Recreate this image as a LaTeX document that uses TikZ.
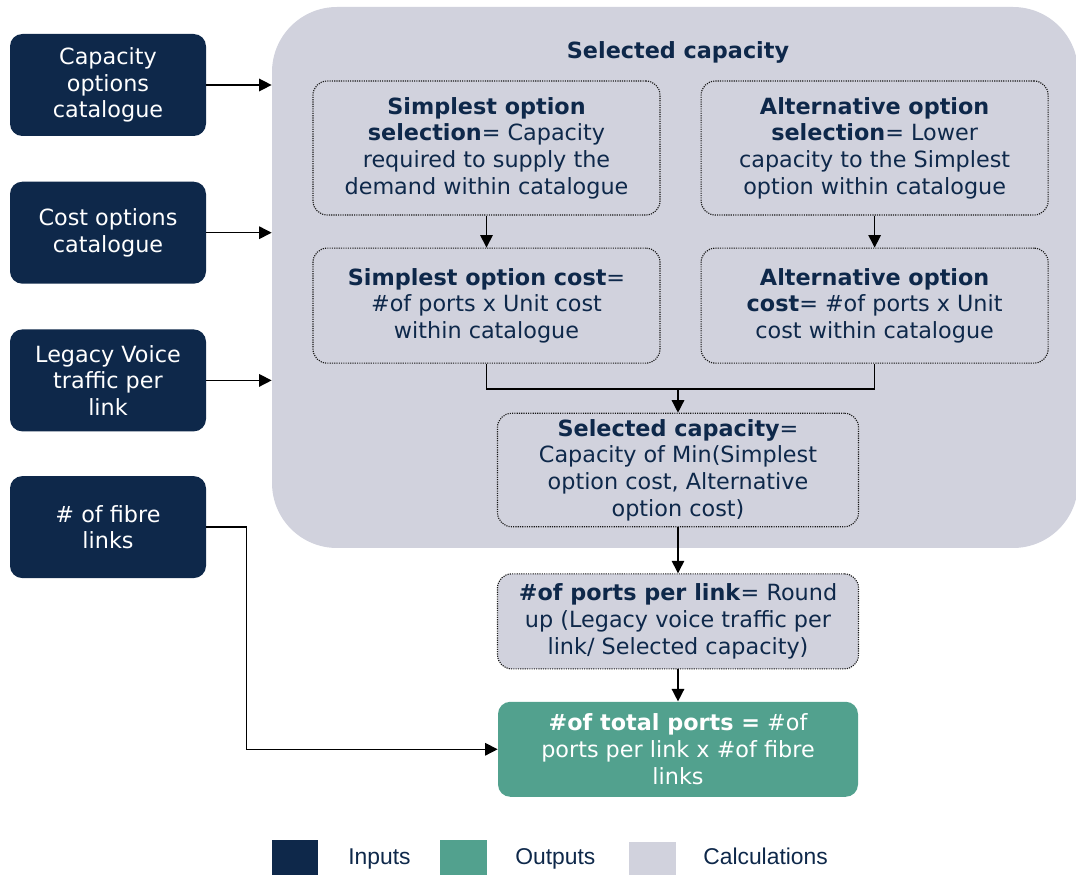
\documentclass[tikz,border=0pt]{standalone}
\usepackage{fontspec}
\setmainfont{DejaVu Sans}
\newfontfamily\legendfont{Liberation Sans}
\usepackage{tikz}
\usetikzlibrary{arrows.meta,positioning,calc}
\definecolor{cnavy}{RGB}{14,40,74}
\definecolor{cteal}{RGB}{82,161,142}
\definecolor{cgray}{RGB}{209,210,221}
\tikzset{
  inputbox/.style={rectangle, rounded corners=7pt, fill=cnavy, text=white, align=center, minimum width=3.92cm, minimum height=2.04cm, font=\fontsize{12.7}{15.2}\selectfont},
  calcbox/.style={rectangle, rounded corners=8pt, draw=black!90, dash pattern=on 0.65pt off 0.65pt, line width=0.65pt, fill=cgray, text=cnavy, align=center, minimum width=6.94cm, font=\fontsize{12.7}{15.2}\selectfont},
  midbox/.style={calcbox, minimum width=7.22cm},
  outbox/.style={rectangle, rounded corners=7pt, fill=cteal, text=white, align=center, minimum width=7.2cm, minimum height=1.9cm, font=\fontsize{12.7}{15.2}\selectfont},
  region/.style={rectangle, rounded corners=1.3cm, fill=cgray, minimum width=16.12cm, minimum height=10.82cm},
  arrow/.style={-{Triangle[length=2.5mm,width=2.5mm]}, line width=0.8pt, draw=black},
  line/.style={line width=0.8pt, draw=black},
  legsquare/.style={rectangle, inner sep=0pt, minimum width=0.93cm, minimum height=0.7cm},
  legtext/.style={inner sep=0pt, anchor=base west, text=cnavy, font=\legendfont\fontsize{13}{15}\selectfont}
}
\begin{document}
\begin{tikzpicture}[node distance=0.9cm]
\useasboundingbox (0,0) rectangle (21.52,-17.5);
% inputs
\node[inputbox] (capacity) at (2.16,-1.70) {Capacity\\options\\catalogue};
\node[inputbox, below=of capacity] (cost) {Cost options\\catalogue};
\node[inputbox, below=of cost] (legacy) {Legacy Voice\\traffic per\\link};
\node[inputbox, below=0.88cm of legacy] (fibre) {\# of fibre\\links};
% calculation area
\node[region] (calcarea) at (13.50,-5.55) {};
\node[font=\fontsize{12.7}{15.2}\selectfont\bfseries, text=cnavy] (areatitle) at (13.56,-1.04) {Selected capacity};
\node[calcbox, minimum height=2.68cm] (simsel) at (9.73,-2.96) {\textbf{Simplest option}\\\textbf{selection}= Capacity\\required to supply the\\demand within catalogue};
\node[calcbox, minimum height=2.68cm, right=0.8cm of simsel] (altsel) {\textbf{Alternative option}\\\textbf{selection}= Lower\\capacity to the Simplest\\option within catalogue};
\node[calcbox, minimum height=2.3cm, below=0.64cm of simsel] (simcost) {\textbf{Simplest option cost}=\\\#of ports x Unit cost\\within catalogue};
\node[calcbox, minimum height=2.3cm, below=0.64cm of altsel] (altcost) {\textbf{Alternative option}\\\textbf{cost}= \#of ports x Unit\\cost within catalogue};
\node[midbox, minimum height=2.2cm] (selcap) at (13.56,-9.40) {\textbf{Selected capacity}=\\Capacity of Min(Simplest\\option cost, Alternative\\option cost)};
\node[midbox, minimum height=1.9cm, below=0.92cm of selcap] (ports) {\textbf{\#of ports per link}= Round\\up (Legacy voice traffic per\\link/ Selected capacity)};
\node[outbox, below=0.64cm of ports] (total) {\textbf{\#of total ports =} \#of\\ports per link x \#of fibre\\links};
% connectors
\draw[arrow] (capacity) -- (capacity -| calcarea.west);
\draw[arrow] (cost) -- (cost -| calcarea.west);
\draw[arrow] (legacy) -- (legacy -| calcarea.west);
\draw[arrow] (simsel) -- (simcost);
\draw[arrow] (altsel) -- (altcost);
\coordinate (merge) at (selcap.north |- 0,-7.78);
\draw[line] (simcost.south) |- (altcost.south |- merge) -- (altcost.south);
\draw[arrow] (merge) -- (selcap.north);
\draw[arrow] (selcap) -- (ports);
\draw[arrow] (ports) -- (total);
\draw[arrow] (fibre.east) -- ++(0.8,0) |- (total.west);
% legend
\node[legsquare, fill=cnavy] (leginputs) at (5.9,-17.15) {};
\node[legtext] (txtinputs) at (6.96,-17.30) {Inputs};
\node[legsquare, fill=cteal] (legoutputs) at (9.27,-17.15) {};
\node[legtext] (txtoutputs) at (10.30,-17.30) {Outputs};
\node[legsquare, fill=cgray, minimum height=0.66cm] (legcalc) at (13.05,-17.17) {};
\node[legtext] (txtcalc) at (14.06,-17.30) {Calculations};
\end{tikzpicture}
\end{document}
